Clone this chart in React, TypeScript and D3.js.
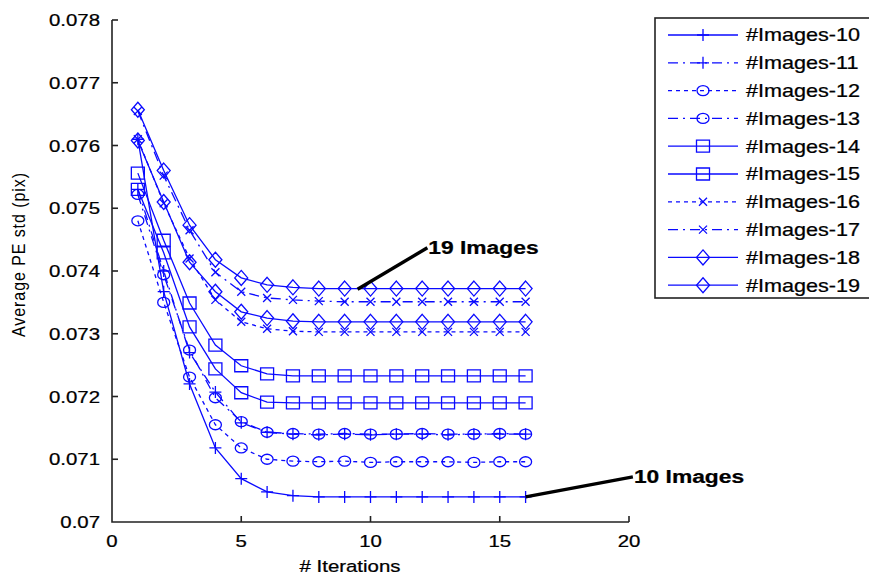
import * as d3 from 'd3'

// iterations 1..16, one value list per image count
const iterations = d3.range(1, 17)

const s10 = [0.0761, 0.07367, 0.0722, 0.07118, 0.07069, 0.07048, 0.07042, 0.0704, 0.0704, 0.0704, 0.0704, 0.0704, 0.0704, 0.0704, 0.0704, 0.0704]
const s11 = [0.0753, 0.074, 0.0727, 0.07207, 0.07158, 0.07143, 0.0714, 0.07139, 0.0714, 0.07139, 0.0714, 0.0714, 0.07139, 0.0714, 0.0714, 0.0714]
const s12 = [0.0748, 0.0735, 0.07231, 0.07155, 0.07118, 0.071, 0.07097, 0.07096, 0.07097, 0.07095, 0.07096, 0.07096, 0.07096, 0.07095, 0.07096, 0.07096]
const s13 = [0.07522, 0.07394, 0.07274, 0.07198, 0.0716, 0.07143, 0.07141, 0.0714, 0.07141, 0.0714, 0.0714, 0.07141, 0.0714, 0.0714, 0.07141, 0.0714]
const s14 = [0.0753, 0.07429, 0.07311, 0.07244, 0.07206, 0.07191, 0.0719, 0.0719, 0.0719, 0.0719, 0.0719, 0.0719, 0.0719, 0.0719, 0.0719, 0.0719]
const s15 = [0.07556, 0.07449, 0.07349, 0.07282, 0.07249, 0.07236, 0.07233, 0.07233, 0.07233, 0.07233, 0.07233, 0.07233, 0.07233, 0.07233, 0.07233, 0.07233]
const s16 = [0.0761, 0.07508, 0.0742, 0.07354, 0.07319, 0.07308, 0.07304, 0.07303, 0.07303, 0.07303, 0.07303, 0.07303, 0.07303, 0.07303, 0.07303, 0.07303]
const s17 = [0.07655, 0.07552, 0.07465, 0.07398, 0.07367, 0.07357, 0.07354, 0.07352, 0.07351, 0.07351, 0.07351, 0.07351, 0.07351, 0.07351, 0.07351, 0.07351]
const s18 = [0.07608, 0.0751, 0.07414, 0.07367, 0.07335, 0.07325, 0.0732, 0.07319, 0.07319, 0.07319, 0.07319, 0.07319, 0.07319, 0.07319, 0.07319, 0.07319]
const s19 = [0.07657, 0.0756, 0.07473, 0.07418, 0.07389, 0.07378, 0.07374, 0.07372, 0.07372, 0.07372, 0.07372, 0.07372, 0.07372, 0.07372, 0.07372, 0.07372]

const names = ['#Images-10', '#Images-11', '#Images-12', '#Images-13', '#Images-14', '#Images-15', '#Images-16', '#Images-17', '#Images-18', '#Images-19']
const values = [s10, s11, s12, s13, s14, s15, s16, s17, s18, s19]
const markers = ['plus', 'plus', 'circle', 'circle', 'square', 'square', 'cross', 'cross', 'diamond', 'diamond']
const dashes = ['none', '10,5,2,5', '4,4', '10,5,2,5', 'none', 'none', '4,4', '10,5,2,5', 'none', 'none']

const xTicks = [0, 5, 10, 15, 20]
const yTicks = [0.07, 0.071, 0.072, 0.073, 0.074, 0.075, 0.076, 0.077, 0.078]
const yTickLabels = ['0.07', '0.071', '0.072', '0.073', '0.074', '0.075', '0.076', '0.077', '0.078']

// annotation: point on line -> label position (data units)
const notes = [
  { text: '19 Images', px: 9.5, py: 0.07371, lx: 12.2, ly: 0.07437 },
  { text: '10 Images', px: 16, py: 0.0704, lx: 20.15, ly: 0.07072 },
]

const W = 869, H = 578
const blue = '#0a0aff'
const font = 'Liberation Sans, Arial, sans-serif'

const x = d3.scaleLinear().domain([0, 20]).range([112, 629])
const y = d3.scaleLinear().domain([0.07, 0.078]).range([522, 20])

const markerPath = (m: string) => {
  switch (m) {
    case 'plus': return 'M-6,0H6M0,-6V6'
    case 'cross': return 'M-4,-4L4,4M-4,4L4,-4'
    case 'square': return 'M-6.5,-6H6.5V6H-6.5Z'
    case 'diamond': return 'M0,-7.5L6.5,0L0,7.5L-6.5,0Z'
    default: return 'M-6,0A6,5 0 1,0 6,0A6,5 0 1,0 -6,0Z'
  }
}

// original figure is stretched horizontally, so text gets scale(1.2,1)
const Txt = ({ tx, ty, anchor = 'start', size = 17, bold = false, dy = '0', children }: any) => (
  <text transform={`translate(${tx},${ty}) scale(1.2,1)`} textAnchor={anchor} dy={dy}
    fontSize={size} fontWeight={bold ? 'bold' : 'normal'} fontFamily={font} fill="#000"
    stroke="#000" strokeWidth={0.25}>{children}</text>
)

export default function App() {
  const line = d3.line<number>().x((_, i) => x(iterations[i])).y(d => y(d))

  const legY = (i: number) => 35 + i * 27.8

  return (
    <svg width={W} height={H} style={{ display: 'block', position: 'absolute', left: 0, top: 0, background: '#fff' }}>
      <rect width={W} height={H} fill="#fff" />

      {/* series */}
      <g fill="none" stroke={blue} strokeWidth={1.3}>
        {values.map((v, k) => (
          <g key={names[k]}>
            <path d={line(v) ?? ''} strokeDasharray={dashes[k]} />
            {v.map((d, i) => (
              <path key={i} d={markerPath(markers[k])} transform={`translate(${x(iterations[i])},${y(d)})`} />
            ))}
          </g>
        ))}
      </g>

      {/* axes */}
      <g stroke="#222" strokeWidth={1.6} fill="none">
        <path d={`M${x(0)},${y(0.078)}V${y(0.07)}H${x(20)}`} />
        {xTicks.filter(t => t > 0).map(t => <path key={t} d={`M${x(t)},${y(0.07)}v-6`} />)}
        {yTicks.filter(t => t > 0.07).map(t => <path key={t} d={`M${x(0)},${y(t)}h6`} />)}
      </g>
      {xTicks.map(t => <Txt key={t} tx={x(t)} ty={547} anchor="middle">{t}</Txt>)}
      {yTicks.map((t, i) => <Txt key={t} tx={100} ty={y(t)} anchor="end" dy="0.36em">{yTickLabels[i]}</Txt>)}
      <Txt tx={350} ty={572} anchor="middle">{'# Iterations'}</Txt>
      <text transform="translate(25,255) rotate(-90) scale(1,1.15)" textAnchor="middle" fontSize={16}
        fontFamily={font} fill="#000" textLength={164} lengthAdjust="spacing">Average PE std (pix)</text>

      {/* annotations */}
      {notes.map(n => (
        <g key={n.text}>
          <line x1={x(n.px)} y1={y(n.py)} x2={x(n.lx)} y2={y(n.ly)} stroke="#000" strokeWidth={3.4} />
          <Txt tx={x(n.lx) + 1} ty={y(n.ly) + 6} size={19} bold>{n.text}</Txt>
        </g>
      ))}

      {/* legend */}
      <rect x={655} y={18} width={240} height={280} fill="#fff" stroke="#222" strokeWidth={1.6} />
      <g fill="none" stroke={blue} strokeWidth={1.3}>
        {names.map((nm, k) => (
          <g key={nm} transform={`translate(0,${legY(k)})`}>
            <path d="M668,0H738" strokeDasharray={dashes[k]} />
            <path d={markerPath(markers[k])} transform="translate(703,0)" />
          </g>
        ))}
      </g>
      {names.map((nm, k) => <Txt key={nm} tx={746} ty={legY(k)} dy="0.36em" size={18}>{nm}</Txt>)}
    </svg>
  )
}
